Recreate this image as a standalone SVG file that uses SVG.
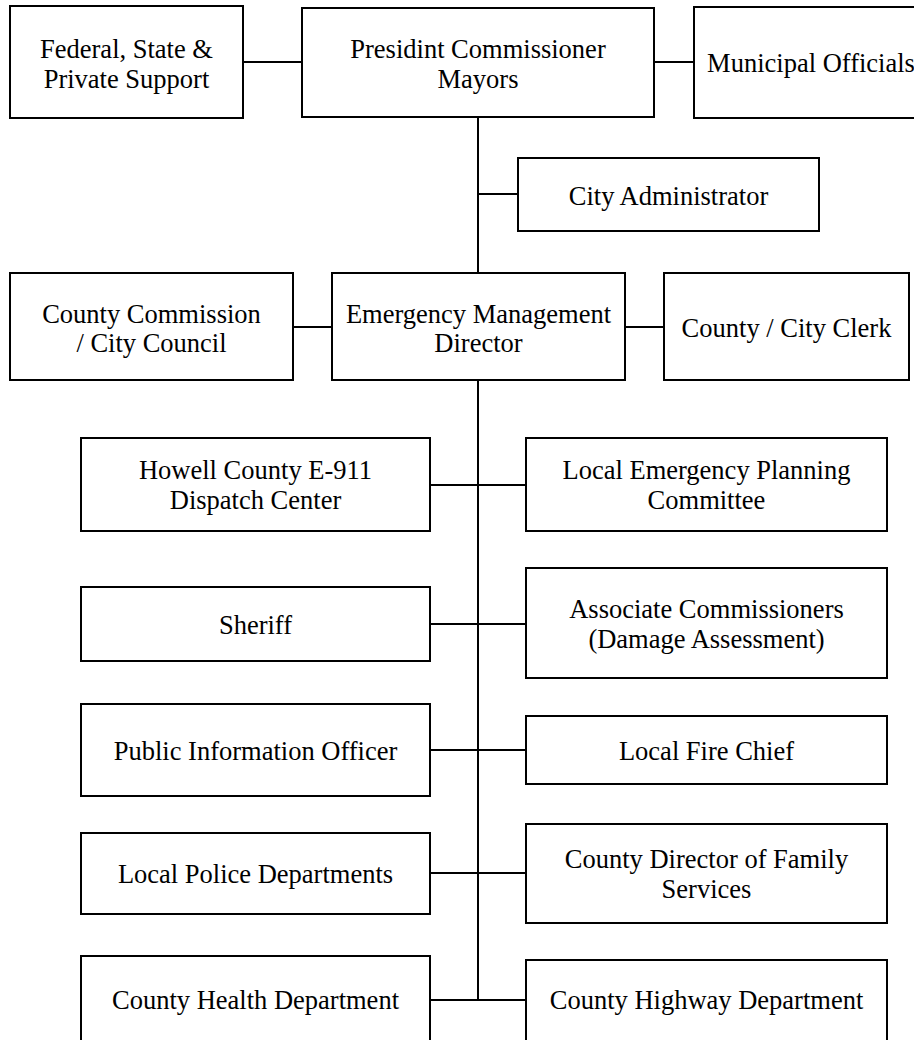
<svg xmlns="http://www.w3.org/2000/svg" width="914" height="1040" viewBox="0 0 914 1040">
  <style>
    .box { fill: #ffffff; stroke: #000000; stroke-width: 2; }
    .lbl { font-family: "Liberation Serif", "Times New Roman", serif; font-size: 26.5px; fill: #000000; text-anchor: middle; }
    .conn { stroke: #000000; stroke-width: 2; fill: none; }
  </style>
  <rect x="0" y="0" width="914" height="1040" fill="#ffffff"/>

  <!-- connectors -->
  <g id="connectors">
    <line class="conn" x1="243" y1="62" x2="302" y2="62"/>
    <line class="conn" x1="654" y1="62" x2="694" y2="62"/>
    <line class="conn" x1="478" y1="117" x2="478" y2="273"/>
    <line class="conn" x1="478" y1="194" x2="518" y2="194"/>
    <line class="conn" x1="293" y1="327" x2="332" y2="327"/>
    <line class="conn" x1="625" y1="327" x2="664" y2="327"/>
    <line class="conn" x1="478" y1="380" x2="478" y2="1001"/>
    <line class="conn" x1="430" y1="485" x2="526" y2="485"/>
    <line class="conn" x1="430" y1="624" x2="526" y2="624"/>
    <line class="conn" x1="430" y1="750" x2="526" y2="750"/>
    <line class="conn" x1="430" y1="873" x2="526" y2="873"/>
    <line class="conn" x1="430" y1="1000" x2="526" y2="1000"/>
  </g>

  <!-- top tier -->
  <g id="federal-support">
    <rect class="box" x="10" y="6" width="233" height="112"/>
    <text class="lbl" x="126.5" y="58">Federal, State &amp;</text>
    <text class="lbl" x="126.5" y="88">Private Support</text>
  </g>
  <g id="president-commissioner">
    <rect class="box" x="302" y="8" width="352" height="109"/>
    <text class="lbl" x="478" y="58">Presidint Commissioner</text>
    <text class="lbl" x="478" y="88">Mayors</text>
  </g>
  <g id="municipal-officials">
    <rect class="box" x="694" y="7" width="234" height="111"/>
    <text class="lbl" x="811" y="72">Municipal Officials</text>
  </g>
  <g id="city-administrator">
    <rect class="box" x="518" y="158" width="301" height="73"/>
    <text class="lbl" x="668.5" y="205">City Administrator</text>
  </g>

  <!-- director tier -->
  <g id="county-commission">
    <rect class="box" x="10" y="273" width="283" height="107"/>
    <text class="lbl" x="151.5" y="323">County Commission</text>
    <text class="lbl" x="151.5" y="352">/ City Council</text>
  </g>
  <g id="em-director">
    <rect class="box" x="332" y="273" width="293" height="107"/>
    <text class="lbl" x="478.5" y="323">Emergency Management</text>
    <text class="lbl" x="478.5" y="352">Director</text>
  </g>
  <g id="county-clerk">
    <rect class="box" x="664" y="273" width="245" height="107"/>
    <text class="lbl" x="786.5" y="337">County / City Clerk</text>
  </g>

  <!-- left column -->
  <g id="dispatch-center">
    <rect class="box" x="81" y="438" width="349" height="93"/>
    <text class="lbl" x="255.5" y="479">Howell County E-911</text>
    <text class="lbl" x="255.5" y="509">Dispatch Center</text>
  </g>
  <g id="sheriff">
    <rect class="box" x="81" y="587" width="349" height="74"/>
    <text class="lbl" x="255.5" y="634">Sheriff</text>
  </g>
  <g id="public-information">
    <rect class="box" x="81" y="704" width="349" height="92"/>
    <text class="lbl" x="255.5" y="760">Public Information Officer</text>
  </g>
  <g id="police">
    <rect class="box" x="81" y="833" width="349" height="81"/>
    <text class="lbl" x="255.5" y="883">Local Police Departments</text>
  </g>
  <g id="health">
    <rect class="box" x="81" y="956" width="349" height="100"/>
    <text class="lbl" x="255.5" y="1009">County Health Department</text>
  </g>

  <!-- right column -->
  <g id="lepc">
    <rect class="box" x="526" y="438" width="361" height="93"/>
    <text class="lbl" x="706.5" y="479">Local Emergency Planning</text>
    <text class="lbl" x="706.5" y="509">Committee</text>
  </g>
  <g id="associate-commissioners">
    <rect class="box" x="526" y="568" width="361" height="110"/>
    <text class="lbl" x="706.5" y="618">Associate Commissioners</text>
    <text class="lbl" x="706.5" y="648">(Damage Assessment)</text>
  </g>
  <g id="fire-chief">
    <rect class="box" x="526" y="716" width="361" height="68"/>
    <text class="lbl" x="706.5" y="760">Local Fire Chief</text>
  </g>
  <g id="family-services">
    <rect class="box" x="526" y="824" width="361" height="99"/>
    <text class="lbl" x="706.5" y="868">County Director of Family</text>
    <text class="lbl" x="706.5" y="898">Services</text>
  </g>
  <g id="highway">
    <rect class="box" x="526" y="960" width="361" height="100"/>
    <text class="lbl" x="706.5" y="1009">County Highway Department</text>
  </g>
</svg>
